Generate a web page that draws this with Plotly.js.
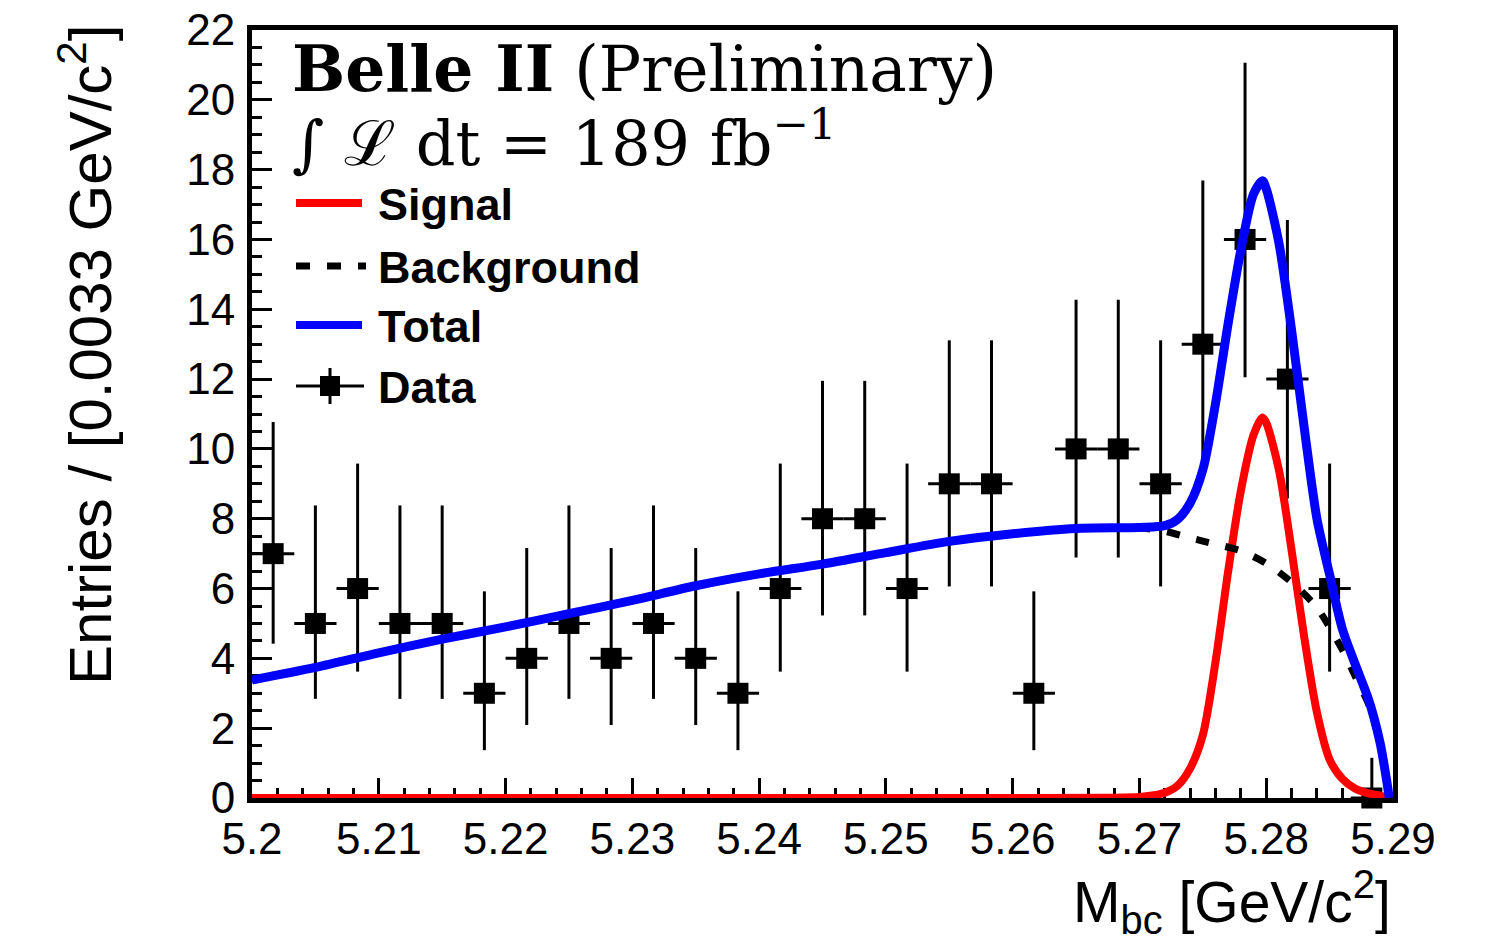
<!DOCTYPE html>
<html>
<head>
<meta charset="utf-8">
<script src="https://cdn.plot.ly/plotly-3.0.1.min.js"></script>
<style>
  html, body { margin: 0; padding: 0; background: #ffffff; }
  #chart { width: 1485px; height: 947px; }
</style>
</head>
<body>
<div id="chart"></div>
<script>
// ---------------- data ----------------
// Mbc bin centres (bin width 0.0033 GeV/c^2)
const BIN_CENTERS = [5.20167, 5.20500, 5.20833, 5.21167, 5.21500, 5.21833, 5.22167, 5.22500, 5.22833,
                     5.23167, 5.23500, 5.23833, 5.24167, 5.24500, 5.24833, 5.25167, 5.25500, 5.25833,
                     5.26167, 5.26500, 5.26833, 5.27167, 5.27500, 5.27833, 5.28167, 5.28500, 5.28833];
const BIN_HALF_WIDTH = 0.0016667;
const COUNTS   = [7, 5, 6, 5, 5, 3, 4, 5, 4, 5, 4, 3, 6, 8, 8, 6, 9, 9, 3, 10, 10, 9, 13, 16, 12, 6, 0];
const ERR_UP   = [3.77, 3.38, 3.58, 3.38, 3.38, 2.92, 3.16, 3.38, 3.16, 3.38, 3.16, 2.92, 3.58, 3.95, 3.95,
                  3.58, 4.11, 4.11, 2.92, 4.27, 4.27, 4.11, 4.69, 5.06, 4.56, 3.58, 1.15];
const ERR_DOWN = [2.58, 2.16, 2.38, 2.16, 2.16, 1.63, 1.91, 2.16, 1.91, 2.16, 1.91, 1.63, 2.38, 2.77, 2.77,
                  2.38, 2.94, 2.94, 1.63, 3.11, 3.11, 2.94, 3.56, 3.95, 3.42, 2.38, 0];

// Signal fit curve
const SIG_X = [5.200, 5.260, 5.268, 5.270, 5.271, 5.272, 5.273, 5.274, 5.275, 5.276, 5.277, 5.278, 5.279,
               5.2797, 5.280, 5.281, 5.282, 5.283, 5.284, 5.285, 5.286, 5.287, 5.288, 5.289, 5.2897];
const SIG_Y = [0, 0, 0.01, 0.03, 0.07, 0.15, 0.35, 0.85, 1.8, 3.9, 6.5, 8.8, 10.4,
               10.9, 10.75, 9.4, 7.1, 4.6, 2.45, 1.1, 0.55, 0.27, 0.14, 0.07, 0];

// Background fit curve
const BKG_X = [5.200, 5.205, 5.210, 5.215, 5.220, 5.225, 5.230, 5.235, 5.240, 5.245, 5.250, 5.255, 5.260,
               5.265, 5.270, 5.272, 5.274, 5.276, 5.278, 5.280, 5.282, 5.284, 5.286, 5.287, 5.288, 5.2885,
               5.289, 5.2895, 5.2897];
const BKG_Y = [3.38, 3.74, 4.16, 4.55, 4.90, 5.28, 5.66, 6.08, 6.42, 6.70, 7.03, 7.35, 7.57,
               7.72, 7.74, 7.64, 7.45, 7.27, 7.08, 6.72, 6.18, 5.45, 4.25, 3.5, 2.75, 2.2,
               1.5, 0.45, 0];

// Total fit curve
const TOT_X = [5.200, 5.205, 5.210, 5.215, 5.220, 5.225, 5.230, 5.235, 5.240, 5.245, 5.250, 5.255, 5.260,
               5.265, 5.270, 5.272, 5.273, 5.274, 5.275, 5.276, 5.277, 5.278, 5.279, 5.2797, 5.280, 5.281,
               5.282, 5.283, 5.284, 5.285, 5.286, 5.287, 5.288, 5.2885, 5.289, 5.2895, 5.2897];
const TOT_Y = [3.38, 3.74, 4.16, 4.55, 4.90, 5.28, 5.66, 6.08, 6.42, 6.70, 7.03, 7.35, 7.57,
               7.72, 7.75, 7.80, 7.98, 8.45, 9.4, 11.3, 13.6, 15.7, 17.3, 17.68, 17.45, 15.9,
               13.4, 10.6, 8.0, 6.4, 4.85, 3.85, 2.9, 2.3, 1.55, 0.5, 0];

const X_TICKS = [5.20, 5.21, 5.22, 5.23, 5.24, 5.25, 5.26, 5.27, 5.28, 5.29];
const X_TICK_LABELS = ['5.2', '5.21', '5.22', '5.23', '5.24', '5.25', '5.26', '5.27', '5.28', '5.29'];
const Y_TICKS = [0, 2, 4, 6, 8, 10, 12, 14, 16, 18, 20, 22];

const LEGEND_LABELS = ['Signal', 'Background', 'Total', 'Data'];

// ---------------- traces ----------------
const SANS = 'Liberation Sans, Arial, Helvetica, sans-serif';
const SERIF = 'DejaVu Serif, Liberation Serif, serif';

const traces = [
  {
    type: 'scatter', mode: 'markers', name: 'Data',
    x: BIN_CENTERS, y: COUNTS,
    marker: { symbol: 'square', size: 21, color: '#000000' },
    error_y: { type: 'data', symmetric: false, array: ERR_UP, arrayminus: ERR_DOWN,
               thickness: 3, width: 0, color: '#000000' },
    error_x: { type: 'constant', value: BIN_HALF_WIDTH, thickness: 3, width: 0, color: '#000000' },
    cliponaxis: false, showlegend: false, hoverinfo: 'x+y'
  },
  {
    type: 'scatter', mode: 'lines', name: 'Signal',
    x: SIG_X, y: SIG_Y,
    line: { color: '#ff0000', width: 8, shape: 'spline', smoothing: 0.8 },
    cliponaxis: false, showlegend: false
  },
  {
    type: 'scatter', mode: 'lines', name: 'Background',
    x: BKG_X, y: BKG_Y,
    line: { color: '#000000', width: 7, dash: '13px,17px', shape: 'spline', smoothing: 0.8 },
    showlegend: false
  },
  {
    type: 'scatter', mode: 'lines', name: 'Total',
    x: TOT_X, y: TOT_Y,
    line: { color: '#0000ff', width: 9, shape: 'spline', smoothing: 0.8 },
    cliponaxis: false, showlegend: false
  }
];

// ---------------- layout helpers (pixel -> paper) ----------------
const PL = 252, PR = 1393, PT = 30, PB = 798;
const px = v => (v - PL) / (PR - PL);
const py = v => (PB - v) / (PB - PT);

const legendRows = [203, 266, 325, 386];
const shapes = [
  { type: 'line', xref: 'paper', yref: 'paper', x0: px(296), x1: px(362), y0: py(legendRows[0]), y1: py(legendRows[0]),
    line: { color: '#ff0000', width: 8 } },
  { type: 'line', xref: 'paper', yref: 'paper', x0: px(296), x1: px(366), y0: py(legendRows[1]), y1: py(legendRows[1]),
    line: { color: '#000000', width: 7, dash: '14px,17px' } },
  { type: 'line', xref: 'paper', yref: 'paper', x0: px(296), x1: px(362), y0: py(legendRows[2]), y1: py(legendRows[2]),
    line: { color: '#0000ff', width: 8 } },
  { type: 'line', xref: 'paper', yref: 'paper', x0: px(296), x1: px(364), y0: py(legendRows[3]), y1: py(legendRows[3]),
    line: { color: '#000000', width: 3 } },
  { type: 'line', xref: 'paper', yref: 'paper', x0: px(330), x1: px(330), y0: py(368), y1: py(404),
    line: { color: '#000000', width: 3 } },
  { type: 'rect', xref: 'paper', yref: 'paper', x0: px(320), x1: px(340), y0: py(396), y1: py(376),
    line: { width: 0 }, fillcolor: '#000000' }
];

const annotations = [
  { xref: 'paper', yref: 'paper', x: px(290), y: py(106), xanchor: 'left', yanchor: 'middle', align: 'left',
    showarrow: false,
    text: '<span style="font-size:63px"><b>Belle II</b> (Preliminary)</span><br>' +
          '<span style="font-size:62px">∫ ℒ dt = 189 fb<sup>−1</sup></span>',
    font: { family: SERIF, size: 57, color: '#000000' } },
  { xref: 'paper', yref: 'paper', x: px(86), y: py(355), xanchor: 'center', yanchor: 'middle', showarrow: false,
    textangle: -90, text: 'Entries / [0.0033 GeV/c<sup>2</sup>]', font: { family: SANS, size: 60, color: '#000000' } },
  { xref: 'paper', yref: 'paper', x: 1.0, y: py(902), xanchor: 'right', yanchor: 'middle', showarrow: false,
    text: 'M<sub>bc</sub> [GeV/c<sup>2</sup>]', font: { family: SANS, size: 57, color: '#000000' } }
];
LEGEND_LABELS.forEach((lab, i) => {
  annotations.push({ xref: 'paper', yref: 'paper', x: px(376), y: py(legendRows[i] + 1), xanchor: 'left', yanchor: 'middle',
    showarrow: false, text: lab, font: { family: SANS, size: 45, weight: 700, color: '#000000' } });
});

const layout = {
  width: 1485, height: 947,
  margin: { l: PL, r: 1485 - PR, t: PT, b: 947 - PB, pad: 0 },
  paper_bgcolor: '#ffffff', plot_bgcolor: '#ffffff',
  showlegend: false,
  xaxis: {
    range: [5.2, 5.29], tickmode: 'array', tickvals: X_TICKS, ticktext: X_TICK_LABELS,
    ticks: 'inside', ticklen: 20, tickwidth: 3, tickcolor: '#000000',
    minor: { tickmode: 'linear', tick0: 5.2, dtick: 0.002, ticks: 'inside', ticklen: 10, tickwidth: 3,
             tickcolor: '#000000', showgrid: false },
    showline: true, linewidth: 5, linecolor: '#000000', mirror: true,
    showgrid: false, zeroline: false, layer: 'below traces',
    tickfont: { family: SANS, size: 44, color: '#000000' }, ticklabelstandoff: -2
  },
  yaxis: {
    range: [0, 22], tickmode: 'array', tickvals: Y_TICKS,
    ticks: 'inside', ticklen: 20, tickwidth: 3, tickcolor: '#000000',
    minor: { tickmode: 'linear', tick0: 0, dtick: 0.5, ticks: 'inside', ticklen: 10, tickwidth: 3,
             tickcolor: '#000000', showgrid: false },
    showline: true, linewidth: 5, linecolor: '#000000', mirror: true,
    showgrid: false, zeroline: false, layer: 'below traces',
    tickfont: { family: SANS, size: 44, color: '#000000' }, ticklabelstandoff: 3
  },
  shapes: shapes,
  annotations: annotations
};

Plotly.newPlot('chart', traces, layout, { displayModeBar: false, staticPlot: true });
</script>
</body>
</html>
